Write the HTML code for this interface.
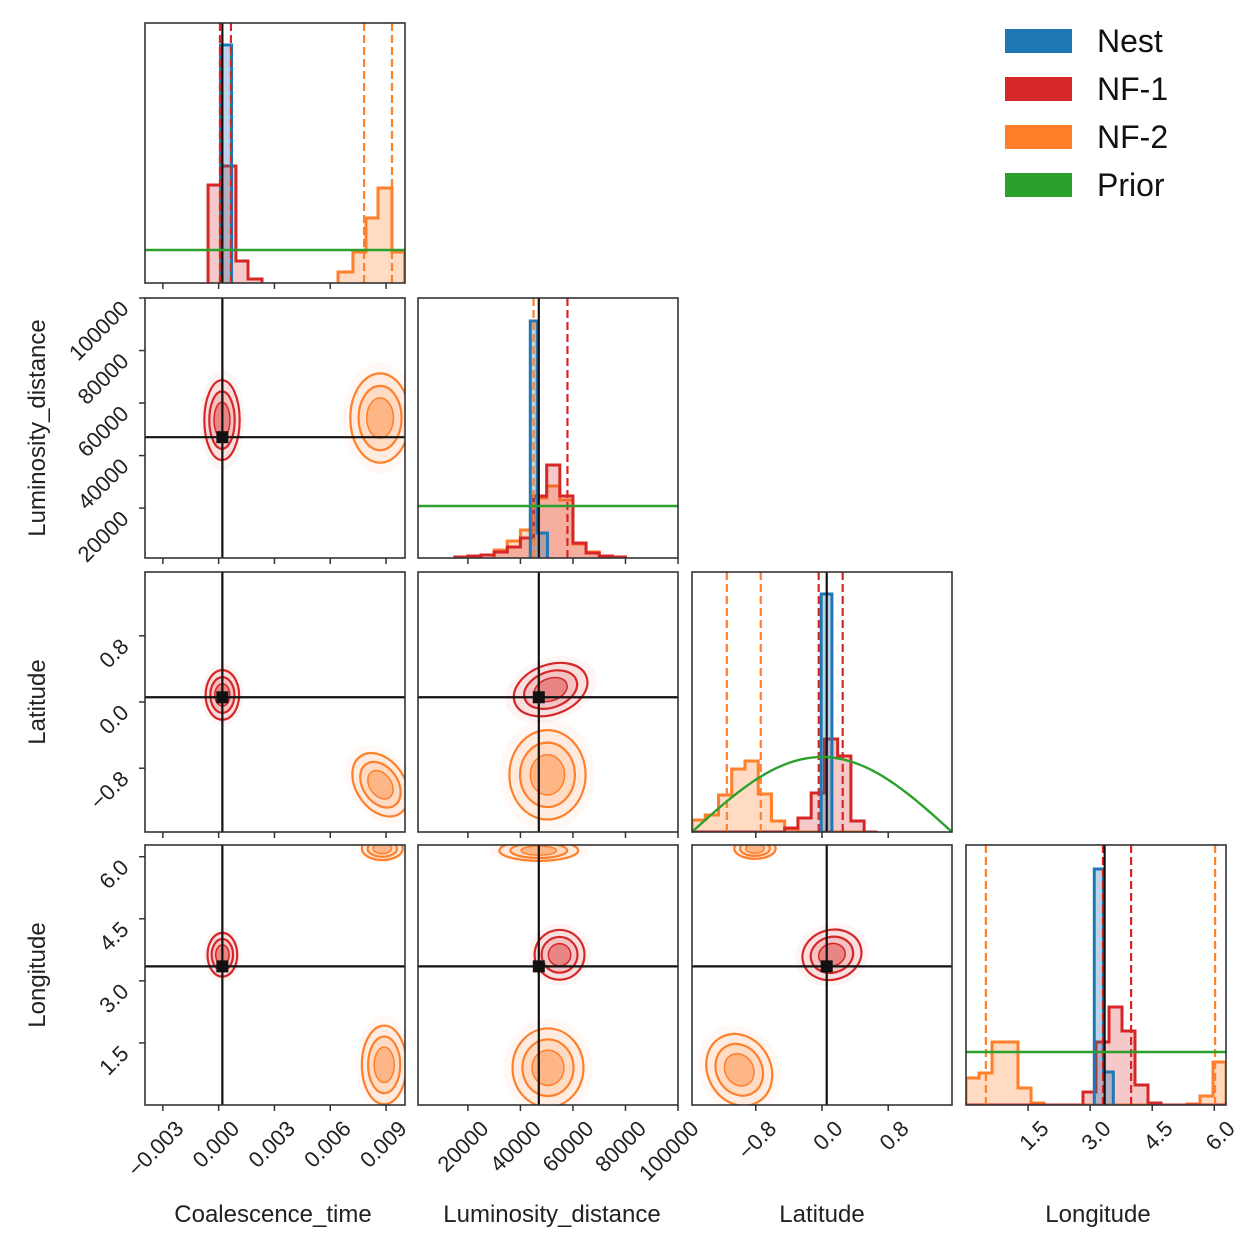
<!DOCTYPE html>
<html><head><meta charset="utf-8">
<style>
html,body{margin:0;padding:0;background:#fff;}
svg{display:block;font-family:"Liberation Sans",Arial,sans-serif;}
</style></head>
<body>
<svg id="fig" width="1256" height="1246" viewBox="0 0 1256 1246" xmlns="http://www.w3.org/2000/svg">
<g>
<rect x="1005" y="29" width="67" height="24" fill="#1f77b4"/>
<text x="1097" y="52" font-size="32" fill="#111">Nest</text>
<rect x="1005" y="77" width="67" height="24" fill="#d62728"/>
<text x="1097" y="100" font-size="32" fill="#111">NF-1</text>
<rect x="1005" y="125" width="67" height="24" fill="#ff7f2a"/>
<text x="1097" y="148" font-size="32" fill="#111">NF-2</text>
<rect x="1005" y="173" width="67" height="24" fill="#2ca02c"/>
<text x="1097" y="196" font-size="32" fill="#111">Prior</text>
</g>
</svg>
<script>
// ---- data ----
const params = ["Coalescence_time","Luminosity_distance","Latitude","Longitude"];
const paramMin = [-0.00396, 1000, -Math.PI/2, 0];
const paramMax = [0.01002, 100000, Math.PI/2, 2*Math.PI];
const truths = [0.0002, 47000, 0.057, 3.35];
const tickVals = [[-0.003,0,0.003,0.006,0.009],[20000,40000,60000,80000,100000],[-0.8,0,0.8],[1.5,3.0,4.5,6.0]];
const tickLabels = [["\u22120.003","0.000","0.003","0.006","0.009"],["20000","40000","60000","80000","100000"],["\u22120.8","0.0","0.8"],["1.5","3.0","4.5","6.0"]];

const tRedEdges = [-0.00057,0.00013,0.00093,0.00158,0.00233];
const tRedCounts = [98,117,22,4];
const tOrgEdges = [0.00642,0.00722,0.00792,0.00857,0.00932,0.0100];
const tOrgCounts = [11,31,65,95,31];
const tBlueEdges = [0.00010,0.00069];
const tBlueCounts = [238];
const tPrior = 33;
const tRedQ = [0.00007,0.00066];
const tOrgQ = [0.00782,0.00932];

const dRedEdges = [15000,20000,25000,30000,35000,40000,45000,50000,55000,60000,65000,70000,75000,80000];
const dRedCounts = [1,2,3,6,11,20,62,93,62,15,5,2,1];
const dOrgEdges = [30000,35000,40000,45000,50000,55000,60000,65000,70000,75000,80000];
const dOrgCounts = [8,17,28,60,72,58,14,6,2,1];
const dBlueEdges = [43750,46400,50300];
const dBlueCounts = [237,25];
const dPrior = 52;
const dRedQ = [57900];
const dOrgQ = [45000];

const latEdges = [-1.5708,-1.4108,-1.2508,-1.0908,-0.9308,-0.7708,-0.6108,-0.4508,-0.2908,-0.1308,0.0292,0.1892,0.3492,0.5092,0.6692];
const latOrgCounts = [12,17,37,63,71,38,11,3,0,0,0,0,0,0];
const latRedCounts = [0,0,0,0,0,0,0,4,14,39,93,76,11,0];
const latBlueEdges = [-0.01,0.12];
const latBlueCounts = [238];
const latPriorPeak = 75;
const latRedQ = [-0.04,0.25];
const latOrgQ = [-1.15,-0.74];

const lonEdges = Array.from({length:21},(_,k)=>k*Math.PI/10);
const lonOrgCounts = [27,32,63,63,17,2,0,0,0,0,0,0,0,0,0,0,0,1,9,43];
const lonRedCounts = [0,0,0,0,0,0,0,0,0,13,63,98,74,20,2,0,0,0,0,0];
const lonBlueEdges = [3.10,3.32,3.56];
const lonBlueCounts = [236,33];
const lonPrior = 53;
const lonRedQ = [3.31,3.99];
const lonOrgQ = [0.48,6.02];

const blobPanels = [[0,1],[0,1],[0,2],[0,2],[1,2],[1,2],[0,3],[0,3],[0,3],[1,3],[1,3],[1,3],[2,3],[2,3],[2,3]];
const blobColor = ["r","o","r","o","r","o","r","o","o","r","o","o","r","o","o"];
const blobCX = [0.00018,0.00868,0.0002,0.0087,51500,50300,0.0002,0.0089,0.0088,54900,50500,47000,0.12,-1.0,-0.81];
const blobCY = [53500,54300,0.085,-1.0,0.15,-0.88,3.63,0.97,6.2,3.63,0.9,6.15,3.63,0.85,6.2];
const blobRX = [0.00095,0.0016,0.0009,0.0013,14500,14500,0.0008,0.0012,0.0011,9500,13500,15000,0.36,0.38,0.25];
const blobRY = [15200,17000,0.30,0.42,0.30,0.54,0.53,0.95,0.28,0.6,0.95,0.25,0.6,0.9,0.25];
const blobRot = [0,0,0,-35,-20,0,0,0,0,0,0,0,-15,-30,0];

const colX = [145,418,692,966];
const rowY = [23,298,572,845];
const S = 260;
const COL = {b:"#1f77b4", r:"#d62728", o:"#ff7f2a", g:"#2ca02c"};
const svg = document.getElementById('fig');
const NS = "http://www.w3.org/2000/svg";
function mk(tag, attrs, parent){const e=document.createElementNS(NS,tag);for(const k in attrs)e.setAttribute(k,attrs[k]);(parent||svg).appendChild(e);return e;}
function xs(p,v){return colX[p]+(v-paramMin[p])/(paramMax[p]-paramMin[p])*S;}
function ys(p,v){return rowY[p]+S-(v-paramMin[p])/(paramMax[p]-paramMin[p])*S;}
function hy(p,c){return rowY[p]+S-c;}

const defs = mk('defs',{});
for(let c=0;c<4;c++)for(let r=0;r<4;r++){const cp=mk('clipPath',{id:'cp'+c+'_'+r},defs);mk('rect',{x:colX[c],y:rowY[r],width:S,height:S},cp);}

function hist(p, edges, counts, color, name){
  const g = mk('g',{'clip-path':'url(#cp'+p+'_'+p+')'});
  
  
  let d = 'M'+xs(p,edges[0])+','+hy(p,0);
  for(let i=0;i<counts.length;i++){d+=' L'+xs(p,edges[i])+','+hy(p,counts[i])+' L'+xs(p,edges[i+1])+','+hy(p,counts[i]);}
  d+=' L'+xs(p,edges[counts.length])+','+hy(p,0);
  const op = color===COL.b?0.3:(color===COL.r?0.25:0.28);
  mk('path',{d:d+' Z',fill:color,'fill-opacity':op,stroke:'none'},g);
  mk('path',{d:d,fill:'none',stroke:color,'stroke-width':3,'stroke-linejoin':'miter'},g);
}
function vline(p, v, color, dash, name){
  const x=xs(p,v);
  const l=mk('line',{x1:x,x2:x,y1:rowY[p],y2:rowY[p]+S,stroke:color,'stroke-width':2.2,'stroke-dasharray':dash||''});
  
  
}
function hline(p, c, name){
  const l=mk('line',{x1:colX[p],x2:colX[p]+S,y1:hy(p,c),y2:hy(p,c),stroke:COL.g,'stroke-width':2.4});
  
  
}

const histSets = [
  [tRedEdges,tRedCounts,tOrgEdges,tOrgCounts,tBlueEdges,tBlueCounts,tRedQ,tOrgQ],
  [dRedEdges,dRedCounts,dOrgEdges,dOrgCounts,dBlueEdges,dBlueCounts,dRedQ,dOrgQ],
  [latEdges,latRedCounts,latEdges,latOrgCounts,latBlueEdges,latBlueCounts,latRedQ,latOrgQ],
  [lonEdges,lonRedCounts,lonEdges,lonOrgCounts,lonBlueEdges,lonBlueCounts,lonRedQ,lonOrgQ]
];
const priorFlat = [tPrior,dPrior,null,lonPrior];
for(let p=0;p<4;p++){
  const h=histSets[p];
  hist(p,h[2],h[3],COL.o,'nf2-hist-'+p);
  hist(p,h[0],h[1],COL.r,'nf1-hist-'+p);
  hist(p,h[4],h[5],COL.b,'nest-hist-'+p);
  h[7].forEach((v,i)=>vline(p,v,COL.o,'8,4','nf2-quantile-'+p+'-'+i));
  h[6].forEach((v,i)=>vline(p,v,COL.r,'8,4','nf1-quantile-'+p+'-'+i));
  vline(p,truths[p],'#111','','truth-line-diag-'+p);
  if(priorFlat[p]!==null){hline(p,priorFlat[p],'prior-line-'+p);}
  else{
    let d='';for(let i=0;i<=60;i++){const v=paramMin[p]+i/60*(paramMax[p]-paramMin[p]);d+=(i?'L':'M')+xs(p,v)+','+hy(p,latPriorPeak*Math.cos(v));}
    const pp=mk('path',{d:d,fill:'none',stroke:COL.g,'stroke-width':2.4});
    
    
  }
}

for(let i=0;i<blobCX.length;i++){
  const c=blobPanels[i][0], r=blobPanels[i][1];
  const g=mk('g',{'clip-path':'url(#cp'+c+'_'+r+')'});
  
  
  const cx=xs(c,blobCX[i]), cy=ys(r,blobCY[i]);
  const rx=Math.abs(xs(c,blobCX[i]+blobRX[i])-cx), ry=Math.abs(ys(r,blobCY[i]+blobRY[i])-cy);
  const col=COL[blobColor[i]];
  const tr='rotate('+blobRot[i]+' '+cx+' '+cy+')';
  mk('ellipse',{cx:cx,cy:cy,rx:rx*1.25,ry:ry*1.25,fill:col,'fill-opacity':0.05,transform:tr},g);
  mk('ellipse',{cx:cx,cy:cy,rx:rx,ry:ry,fill:col,'fill-opacity':0.1,stroke:col,'stroke-width':2.2,transform:tr},g);
  mk('ellipse',{cx:cx,cy:cy,rx:rx*0.72,ry:ry*0.72,fill:col,'fill-opacity':0.15,stroke:col,'stroke-width':2.2,transform:tr},g);
  mk('ellipse',{cx:cx,cy:cy,rx:rx*0.45,ry:ry*0.45,fill:col,'fill-opacity':0.4,stroke:col,'stroke-width':1.5,transform:tr},g);
}

for(let c=0;c<4;c++)for(let r=c+1;r<4;r++){
  const x=xs(c,truths[c]), y=ys(r,truths[r]);
  const g=mk('g',{'clip-path':'url(#cp'+c+'_'+r+')'});
  
  
  mk('line',{x1:x,x2:x,y1:rowY[r],y2:rowY[r]+S,stroke:'#111','stroke-width':2.2},g);
  mk('line',{x1:colX[c],x2:colX[c]+S,y1:y,y2:y,stroke:'#111','stroke-width':2.2},g);
  mk('rect',{x:x-6,y:y-6,width:12,height:12,fill:'#111'},g);
}

for(let c=0;c<4;c++)for(let r=c;r<4;r++){
  const f=mk('rect',{x:colX[c],y:rowY[r],width:S,height:S,fill:'none',stroke:'#333','stroke-width':1.6});
  
  
  tickVals[c].forEach((v,i)=>{
    const x=xs(c,v);
    mk('line',{x1:x,x2:x,y1:rowY[r]+S,y2:rowY[r]+S+6,stroke:'#333','stroke-width':1.5});
    if(r===3){
      const ax=x+22, ay=rowY[r]+S+25;
      const t=mk('text',{x:ax,y:ay,'font-size':22,fill:'#222','text-anchor':'end',transform:'rotate(-45 '+ax+' '+ay+')'});
      t.textContent=tickLabels[c][i];
      
      
    }
  });
  if(c===0 && r>0){
    tickVals[r].forEach((v,i)=>{
      const y=ys(r,v);
      mk('line',{x1:colX[0]-6,x2:colX[0],y1:y,y2:y,stroke:'#333','stroke-width':1.5});
      const ax=colX[0]-15, ay=y+12;
      const t=mk('text',{x:ax,y:ay,'font-size':22,fill:'#222','text-anchor':'end',transform:'rotate(-45 '+ax+' '+ay+')'});
      t.textContent=tickLabels[r][i];
      
      
    });
  }
}
const titleX = [273,552,822,1098];
for(let c=0;c<4;c++){
  const t=mk('text',{x:titleX[c],y:1222,'font-size':24,fill:'#222','text-anchor':'middle'});
  t.textContent=params[c];
  
  
}
for(let r=1;r<4;r++){
  const cy=rowY[r]+S/2, cx=45;
  const t=mk('text',{x:cx,y:cy,'font-size':24,fill:'#222','text-anchor':'middle',transform:'rotate(-90 '+cx+' '+cy+')'});
  t.textContent=params[r];
  
  
}
</script>
</body></html>
